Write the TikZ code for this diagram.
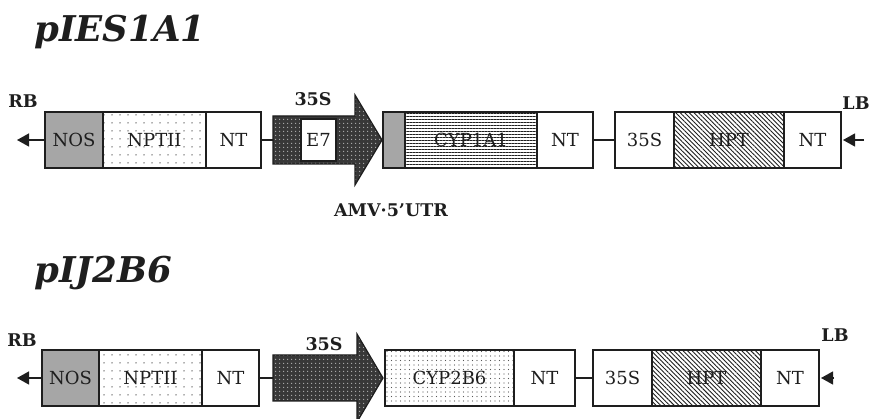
\documentclass[tikz,border=0pt]{standalone}
\usepackage{fontspec}
\setmainfont{DejaVu Serif}
\usepackage{tikz}
\usetikzlibrary{arrows.meta,positioning,patterns.meta}
\definecolor{ink}{HTML}{1E1E1E}
\definecolor{nosgray}{HTML}{A6A6A6}
\tikzset{
    every picture/.style={line join=miter},
    part/.style={draw=ink,line width=1.2pt,minimum height=56pt,inner sep=0pt,outer sep=0pt,
      font=\fontsize{18}{20}\selectfont,text=ink},
    nosbox/.style={part,fill=nosgray},
    sparsedots/.style={part,pattern={Dots[distance=8pt,radius=0.75pt]},pattern color=ink!70},
    densedots/.style={part,pattern={Dots[distance=4.5pt,radius=0.7pt]},pattern color=ink!75},
    hlines/.style={part,pattern={Lines[angle=0,distance=3pt,line width=0.8pt]},pattern color=ink},
    hatched/.style={part,pattern={Lines[angle=-45,distance=3.2pt,line width=0.9pt]},pattern color=ink},
    plainbox/.style={part,fill=white},
    promoter/.style={draw=ink,line width=1.2pt,preaction={fill=black!78},
      pattern={Dots[distance=4pt,radius=0.8pt]},pattern color=gray!60},
    link/.style={draw=ink,line width=1.2pt},
    border/.style={draw=ink,line width=1.3pt,-{Triangle[length=12pt,width=13pt]}},
    tag/.style={font=\bfseries\fontsize{17.5}{19}\selectfont,text=ink,inner sep=0pt},
    title/.style={font=\bfseries\itshape\fontsize{35.5}{40}\selectfont,text=ink,
      anchor=base west,inner sep=0pt}
}

\begin{document}
\begin{tikzpicture}[x=1pt,y=-1pt]
  \useasboundingbox (0,0) rectangle (873,419);

  % pIES1A1
  \node[title] (ttop) at (34,42) {pIES1A1};
  \node[nosbox,minimum width=58pt,anchor=west] (nosa) at (45,140) {NOS};
  \node[sparsedots,minimum width=103pt,right=0pt of nosa] (npta) {NPTII};
  \node[plainbox,minimum width=55pt,right=0pt of npta] (nta) {NT};
  \coordinate (taila) at (273,140);
  \draw[promoter] (taila) ++(0,-24) -- (355,116) -- (355,95) -- (382,140)
    -- (355,185) -- (355,164) -- (273,164) -- cycle;
  \node[plainbox,minimum width=35pt,minimum height=42pt] (e7a) at (318.5,140) {E7};
  \node[nosbox,minimum width=22pt,anchor=west] (utra) at (383,140) {};
  \node[hlines,minimum width=132pt,right=0pt of utra] (cypa) {CYP1A1};
  \node[plainbox,minimum width=56pt,right=0pt of cypa] (ntb) {NT};
  \node[plainbox,minimum width=59pt,anchor=west] (proa) at (615,140) {35S};
  \node[hatched,minimum width=110pt,right=0pt of proa] (hpta) {HPT};
  \node[plainbox,minimum width=57pt,right=0pt of hpta] (ntc) {NT};
  \coordinate (rba) at (17,140);
  \coordinate (lba) at (864,140);
  \draw[border] (nosa.west) -- (rba);
  \draw[border,shorten >=2pt] (lba) -- (ntc.east);
  \draw[link] (nta.east) -- (taila);
  \draw[link] (ntb.east) -- (proa.west);
  \node[tag] (rbla) at (23,101) {RB};
  \node[tag] (lbla) at (856,103) {LB};
  \node[tag] (p35a) at (313,99) {35S};
  \node[tag] (amv) at (391,210) {AMV·5'UTR};

  % pIJ2B6
  \node[title] (tbot) at (34,283) {pIJ2B6};
  \node[nosbox,minimum width=57pt,anchor=west] (nosb) at (42,378) {NOS};
  \node[sparsedots,minimum width=103pt,right=0pt of nosb] (nptb) {NPTII};
  \node[plainbox,minimum width=57pt,right=0pt of nptb] (ntd) {NT};
  \coordinate (tailb) at (273,378);
  \draw[promoter] (tailb) ++(0,-23) -- (357,355) -- (357,334) -- (383,378)
    -- (357,422) -- (357,401) -- (273,401) -- cycle;
  \node[densedots,minimum width=129pt,anchor=west] (cypb) at (385,378) {CYP2B6};
  \node[plainbox,minimum width=61pt,right=0pt of cypb] (nte) {NT};
  \node[plainbox,minimum width=59pt,anchor=west] (prob) at (593,378) {35S};
  \node[hatched,minimum width=109pt,right=0pt of prob] (hptb) {HPT};
  \node[plainbox,minimum width=58pt,right=0pt of hptb] (ntf) {NT};
  \coordinate (rbb) at (17,378);
  \coordinate (lbb) at (834,378);
  \draw[border] (nosb.west) -- (rbb);
  \draw[border,shorten >=2pt] (lbb) -- (ntf.east);
  \draw[link] (ntd.east) -- (tailb);
  \draw[link] (nte.east) -- (prob.west);
  \node[tag] (rblb) at (22,340) {RB};
  \node[tag] (lblb) at (835,335) {LB};
  \node[tag] (p35b) at (324,344) {35S};
\end{tikzpicture}
\end{document}
